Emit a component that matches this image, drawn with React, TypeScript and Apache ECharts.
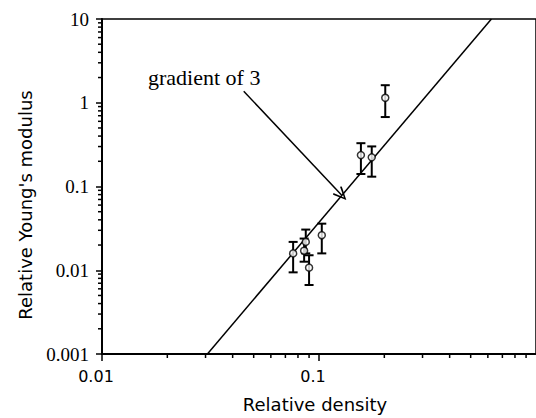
import React, { useEffect, useRef } from "react";
import * as echarts from "echarts";

// ---- data ----
const densities = [0.076, 0.0869, 0.0854, 0.09, 0.103, 0.156, 0.175, 0.202];
const moduli = [0.0159, 0.0218, 0.0171, 0.01074, 0.0262, 0.237, 0.223, 1.146];
const errLow = [0.00944, 0.0159, 0.01265, 0.00667, 0.0159, 0.141, 0.131, 0.675];
const errHigh = [0.0218, 0.0306, 0.0239, 0.0151, 0.036, 0.329, 0.301, 1.62];

const gradLineX = [0.0306, 0.623];
const gradLineY = [0.001, 10];

const arrowStart = [0.045, 1.37];
const arrowEnd = [0.127, 0.0794];

const xMajorLabels: Record<string, string> = { "0.01": "0.01", "0.1": "0.1" };
const yMajorLabels: Record<string, string> = {
  "0.001": "0.001",
  "0.01": "0.01",
  "0.1": "0.1",
  "1": "1",
  "10": "10",
};

const xMinorTicks = [
  0.02, 0.03, 0.04, 0.05, 0.06, 0.07, 0.08, 0.09,
  0.2, 0.3, 0.4, 0.5, 0.6, 0.7, 0.8, 0.9,
];
const yMinorTicks = [
  0.002, 0.003, 0.004, 0.005, 0.006, 0.007, 0.008, 0.009,
  0.02, 0.03, 0.04, 0.05, 0.06, 0.07, 0.08, 0.09,
  0.2, 0.3, 0.4, 0.5, 0.6, 0.7, 0.8, 0.9,
  2, 3, 4, 5, 6, 7, 8, 9,
];

const X_MIN = 0.01;
const X_MAX = 1;
const Y_MIN = 0.001;
const Y_MAX = 10;

const arrowHead =
  "path://M6,0 L0,13 L1.5,14 L6,3.5 L10.5,14 L12,13 Z";

function fmt(v: number, map: Record<string, string>) {
  const key = String(Number(v.toPrecision(3)));
  return map[key] ?? "";
}

export default function App() {
  const ref = useRef<HTMLDivElement>(null);
  useEffect(() => {
    if (!ref.current) return;
    const chart = echarts.init(ref.current, undefined, { renderer: "svg" });
    const black = "#000";
    const option: any = {
      animation: false,
      backgroundColor: "#fff",
      grid: {
        left: 102,
        top: 19,
        width: 440,
        height: 336.5,
        show: true,
        borderColor: black,
        borderWidth: 1.5,
        backgroundColor: "transparent",
      },
      xAxis: {
        type: "log",
        logBase: 10,
        min: X_MIN,
        max: X_MAX,
        name: "Relative density",
        nameLocation: "middle",
        nameGap: 41,
        nameTextStyle: {
          fontFamily: "DejaVu Sans",
          fontSize: 18,
          color: black,
          padding: [0, 8, 0, 0],
        },
        axisLine: { show: true, lineStyle: { color: black, width: 2 } },
        axisTick: { show: true, length: 7, inside: false, lineStyle: { color: black, width: 1.5 } },
        axisLabel: {
          show: true,
          margin: 14,
          fontFamily: "DejaVu Sans",
          fontSize: 16,
          color: black,
          padding: [0, 12, 0, 0],
          showMaxLabel: false,
          formatter: (v: number) => fmt(v, xMajorLabels),
        },
        splitLine: { show: false },
      },
      yAxis: {
        type: "log",
        logBase: 10,
        min: Y_MIN,
        max: Y_MAX,
        axisLine: { show: true, lineStyle: { color: black, width: 2 } },
        axisTick: { show: true, length: 6, inside: false, lineStyle: { color: black, width: 1.5 } },
        axisLabel: {
          show: true,
          margin: 13,
          fontFamily: "Liberation Serif",
          fontSize: 19,
          color: black,
          formatter: (v: number) => fmt(v, yMajorLabels),
        },
        splitLine: { show: false },
      },
      graphic: [
        {
          type: "text",
          x: 25,
          y: 205,
          rotation: Math.PI / 2,
          style: {
            text: "Relative Young's modulus",
            fontFamily: "DejaVu Sans",
            fontSize: 18,
            fill: black,
            textAlign: "center",
            textVerticalAlign: "middle",
          },
        },
        {
          type: "text",
          x: 148,
          y: 77,
          style: {
            text: "gradient of 3",
            fontFamily: "Liberation Serif",
            fontSize: 22,
            fill: black,
            textAlign: "left",
            textVerticalAlign: "middle",
          },
        },
      ],
      series: [
        {
          type: "custom",
          name: "xMinor",
          silent: true,
          clip: false,
          data: xMinorTicks.map((v) => [v, Y_MIN]),
          encode: { x: 0, y: 1 },
          renderItem: (params: any, api: any) => {
            const p = api.coord([api.value(0), api.value(1)]);
            return {
              type: "line",
              shape: { x1: p[0], y1: p[1], x2: p[0], y2: p[1] + 4 },
              style: { stroke: black, lineWidth: 1.5 },
            };
          },
        },
        {
          type: "custom",
          name: "yMinor",
          silent: true,
          clip: false,
          data: yMinorTicks.map((v) => [X_MIN, v]),
          encode: { x: 0, y: 1 },
          renderItem: (params: any, api: any) => {
            const p = api.coord([api.value(0), api.value(1)]);
            return {
              type: "line",
              shape: { x1: p[0] - 4, y1: p[1], x2: p[0], y2: p[1] },
              style: { stroke: black, lineWidth: 1.5 },
            };
          },
        },
        {
          type: "line",
          name: "gradient",
          data: gradLineX.map((x, i) => [x, gradLineY[i]]),
          symbol: "none",
          lineStyle: { color: black, width: 1.5 },
          z: 1,
          markLine: {
            silent: true,
            symbol: ["none", arrowHead],
            symbolSize: [12, 14],
            label: { show: false },
            lineStyle: { color: black, width: 1.5, type: "solid" },
            data: [[{ coord: arrowStart }, { coord: arrowEnd }]],
          },
        },
        {
          type: "custom",
          name: "errors",
          data: densities.map((x, i) => [x, errLow[i], errHigh[i]]),
          encode: { x: 0, y: [1, 2] },
          z: 2,
          renderItem: (params: any, api: any) => {
            const x = api.value(0);
            const top = api.coord([x, api.value(2)]);
            const bot = api.coord([x, api.value(1)]);
            const w = 4.5;
            const style = { stroke: black, lineWidth: 2 };
            return {
              type: "group",
              children: [
                { type: "line", shape: { x1: top[0], y1: top[1], x2: bot[0], y2: bot[1] }, style },
                { type: "line", shape: { x1: top[0] - w, y1: top[1], x2: top[0] + w, y2: top[1] }, style },
                { type: "line", shape: { x1: bot[0] - w, y1: bot[1], x2: bot[0] + w, y2: bot[1] }, style },
              ],
            };
          },
        },
        {
          type: "scatter",
          name: "measured",
          data: densities.map((x, i) => [x, moduli[i]]),
          symbol: "circle",
          symbolSize: 7,
          z: 3,
          itemStyle: { color: "#fff", borderColor: black, borderWidth: 1.5 },
        },
      ],
    };
    chart.setOption(option);
    return () => chart.dispose();
  }, []);
  return (
    <div
      ref={ref}
      style={{ position: "fixed", left: 0, top: 0, width: 536, height: 418 }}
    />
  );
}
